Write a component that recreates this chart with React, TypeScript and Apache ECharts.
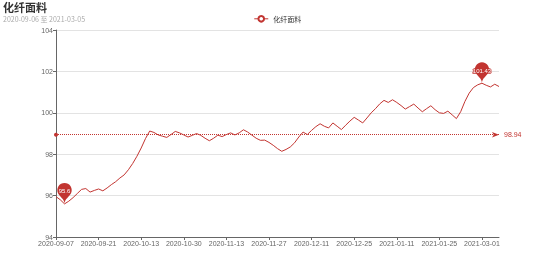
import React, { useEffect, useRef } from "react";
import * as echarts from "echarts";

const titleText = "化纤面料";
const subText = "2020-09-06 至 2021-03-05";
const seriesName = "化纤面料";

const dates: string[] = [
  "2020-09-07", "2020-09-08", "2020-09-09", "2020-09-10", "2020-09-11", "2020-09-14", "2020-09-15", "2020-09-16", "2020-09-17", "2020-09-18",
  "2020-09-21", "2020-09-22", "2020-09-23", "2020-09-24", "2020-09-25", "2020-09-28", "2020-09-29", "2020-09-30", "2020-10-09", "2020-10-12",
  "2020-10-13", "2020-10-14", "2020-10-15", "2020-10-16", "2020-10-19", "2020-10-20", "2020-10-22", "2020-10-23", "2020-10-27", "2020-10-29",
  "2020-10-30", "2020-11-02", "2020-11-03", "2020-11-04", "2020-11-05", "2020-11-06", "2020-11-09", "2020-11-10", "2020-11-11", "2020-11-12",
  "2020-11-13", "2020-11-16", "2020-11-17", "2020-11-18", "2020-11-19", "2020-11-20", "2020-11-23", "2020-11-24", "2020-11-25", "2020-11-26",
  "2020-11-27", "2020-11-30", "2020-12-01", "2020-12-02", "2020-12-03", "2020-12-04", "2020-12-07", "2020-12-08", "2020-12-09", "2020-12-10",
  "2020-12-11", "2020-12-14", "2020-12-15", "2020-12-16", "2020-12-17", "2020-12-18", "2020-12-21", "2020-12-22", "2020-12-23", "2020-12-24",
  "2020-12-25", "2020-12-28", "2020-12-29", "2020-12-30", "2020-12-31", "2021-01-04", "2021-01-05", "2021-01-06", "2021-01-07", "2021-01-08",
  "2021-01-11", "2021-01-12", "2021-01-13", "2021-01-14", "2021-01-15", "2021-01-18", "2021-01-19", "2021-01-20", "2021-01-21", "2021-01-22",
  "2021-01-25", "2021-01-26", "2021-01-28", "2021-02-01", "2021-02-03", "2021-02-05", "2021-02-08", "2021-02-10", "2021-02-19", "2021-02-24",
  "2021-03-01", "2021-03-02", "2021-03-03", "2021-03-04", "2021-03-05",
];

const values: number[] = [
  95.95, 95.8, 95.6, 95.73, 95.9, 96.1, 96.3, 96.34, 96.17, 96.25,
  96.32, 96.23, 96.37, 96.53, 96.67, 96.85, 97.0, 97.25, 97.55, 97.9,
  98.3, 98.75, 99.12, 99.05, 98.93, 98.87, 98.81, 98.95, 99.1, 99.03,
  98.93, 98.83, 98.91, 99.0, 98.91, 98.77, 98.65, 98.77, 98.92, 98.85,
  98.95, 99.03, 98.93, 99.03, 99.18, 99.07, 98.92, 98.77, 98.67, 98.68,
  98.57, 98.43, 98.27, 98.14, 98.23, 98.35, 98.55, 98.83, 99.07, 98.95,
  99.15, 99.33, 99.47, 99.35, 99.27, 99.51, 99.35, 99.19, 99.4, 99.6,
  99.78, 99.65, 99.51, 99.75, 100.0, 100.2, 100.43, 100.6, 100.5, 100.63,
  100.5, 100.35, 100.18, 100.3, 100.42, 100.23, 100.05, 100.2, 100.34, 100.15,
  100.0, 99.97, 100.08, 99.9, 99.72, 100.05, 100.55, 100.95, 101.22, 101.35,
  101.43, 101.33, 101.25, 101.38, 101.27,
];

const yMin = 94;
const yMax = 104;
const yInterval = 2;

const RED = "#c23531";

export default function App() {
  const ref = useRef<HTMLDivElement>(null);
  useEffect(() => {
    if (!ref.current) return;
    const chart = echarts.init(ref.current, null, { renderer: "svg" });
    chart.setOption({
      animation: false,
      color: [RED],
      title: {
        text: titleText,
        subtext: subText,
        left: 3,
        top: 1,
        padding: 0,
        itemGap: 3,
        textStyle: { fontSize: 11, fontWeight: "bold", color: "#333", fontFamily: "Noto Sans CJK SC", lineHeight: 11 },
        subtextStyle: { fontSize: 7, color: "#aaa", fontFamily: "Noto Sans CJK SC", lineHeight: 8 },
      },
      legend: {
        data: [seriesName],
        top: 15,
        left: "center",
        padding: 0,
        itemWidth: 14,
        itemHeight: 7,
        lineStyle: { width: 1 },
        itemStyle: { borderWidth: 1 },
        textStyle: { fontSize: 7, color: "#333", fontFamily: "Noto Sans CJK SC" },
      },
      grid: { left: 56, right: 56, top: 30, bottom: 29, containLabel: false },
      xAxis: {
        type: "category",
        data: dates,
        boundaryGap: false,
        axisLine: { lineStyle: { color: "#666" } },
        axisTick: { show: true, interval: 9, length: 3 },
        axisLabel: { interval: 9, fontSize: 7, color: "#666", margin: 3 },
      },
      yAxis: {
        type: "value",
        min: yMin,
        max: yMax,
        interval: yInterval,
        axisLine: { show: true, lineStyle: { color: "#666" } },
        axisTick: { show: true, length: 3 },
        axisLabel: { fontSize: 7, color: "#666", margin: 3 },
        splitLine: { lineStyle: { color: "#e3e3e3" } },
      },
      series: [
        {
          name: seriesName,
          type: "line",
          data: values,
          showSymbol: false,
          symbol: "emptyCircle",
          lineStyle: { width: 1, color: RED },
          itemStyle: { color: RED },
          markPoint: {
            symbolSize: 24,
            label: { fontSize: 6, color: "#fff", textBorderColor: RED, textBorderWidth: 1.5 },
            itemStyle: { color: RED },
            data: [
              { type: "max", name: "max" },
              { type: "min", name: "min" },
            ],
          },
          markLine: {
            symbol: ["circle", "arrow"],
            symbolSize: [4, 7],
            precision: 2,
            lineStyle: { type: "dotted", color: RED, width: 1 },
            label: { fontSize: 7, color: RED, position: "end" },
            data: [{ type: "average", name: "avg" }],
          },
        },
      ],
    });
    return () => chart.dispose();
  }, []);
  return <div ref={ref} style={{ position: "fixed", left: 0, top: 0, width: 555, height: 266 }} />;
}
